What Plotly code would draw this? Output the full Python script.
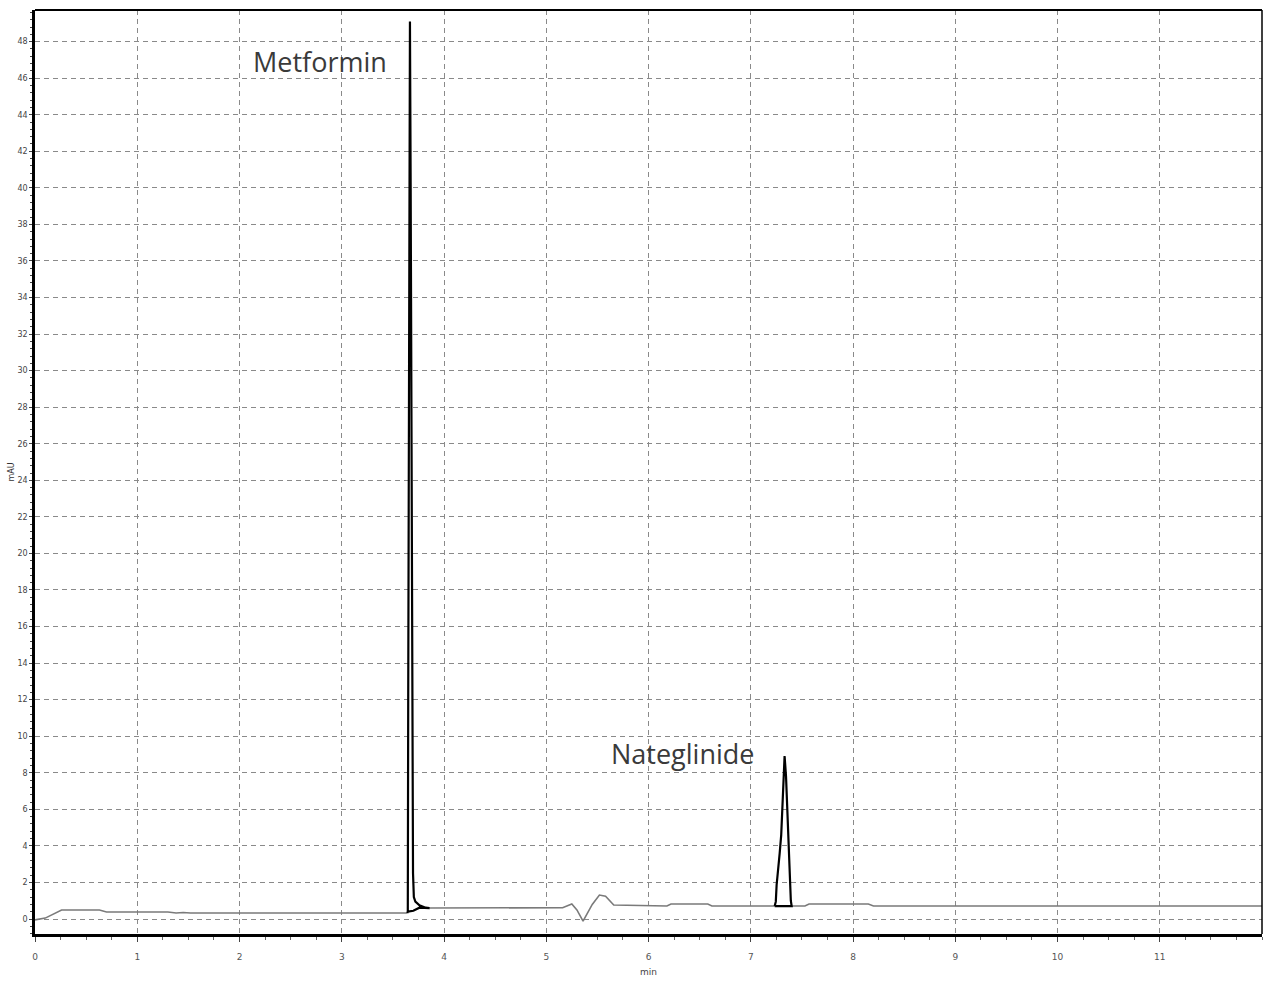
import plotly.graph_objects as go

# Detector trace (baseline segments, grey)
base_t = [0.00, 0.10, 0.26, 0.63, 0.70, 1.30, 1.38, 1.45, 1.52, 3.64,
          3.64]
base_v = [-0.05, 0.05, 0.49, 0.49, 0.38, 0.38, 0.33, 0.36, 0.33, 0.33,
          None]
mid_t = [3.86, 4.50, 5.16, 5.25, 5.30, 5.36, 5.45, 5.52, 5.58, 5.66,
         6.18, 6.22, 6.58, 6.62, 7.23]
mid_v = [0.60, 0.62, 0.62, 0.82, 0.50, -0.11, 0.80, 1.31, 1.25, 0.77,
         0.71, 0.82, 0.82, 0.71, 0.71]
tail_t = [7.41, 7.53, 7.57, 8.15, 8.20, 9.00, 10.0, 11.0, 12.0]
tail_v = [0.71, 0.71, 0.82, 0.82, 0.71, 0.71, 0.71, 0.71, 0.71]

# Metformin peak (black outline)
met_t = [3.640, 3.646, 3.650, 3.656, 3.662, 3.667, 3.674, 3.682, 3.690,
         3.697, 3.705, 3.720, 3.760, 3.820, 3.860, 3.760, 3.700, 3.646]
met_v = [0.33, 0.40, 12.0, 35.0, 47.0, 49.1, 40.0, 24.0, 9.0,
         2.5, 1.2, 0.95, 0.75, 0.62, 0.60, 0.62, 0.45, 0.40]

# Nateglinide peak (black outline)
nat_t = [7.234, 7.245, 7.253, 7.268, 7.283, 7.298, 7.312, 7.324, 7.331,
         7.345, 7.360, 7.370, 7.380, 7.392, 7.400, 7.234]
nat_v = [0.71, 0.95, 1.86, 2.60, 3.61, 4.60, 6.24, 7.60, 8.92,
         7.80, 5.80, 4.32, 2.20, 1.00, 0.71, 0.71]

x_ticks = list(range(0, 12))
x_labels = [str(v) for v in x_ticks]
y_ticks = list(range(0, 50, 2))
y_labels = [str(v) for v in y_ticks]

peak_names = ["Metformin", "Nateglinide"]
peak_label_pos = [(2.79, 46.9), (6.33, 9.05)]

fig = go.Figure()
grey = "#7a7a7a"
fig.add_trace(go.Scatter(x=base_t + mid_t + tail_t, y=base_v + mid_v + tail_v,
                         mode="lines", line=dict(color=grey, width=1.6),
                         connectgaps=False, hoverinfo="skip"))
fig.add_trace(go.Scatter(x=[3.64, 3.646], y=[0.33, 0.40], mode="lines",
                         line=dict(color=grey, width=1.6)))
fig.add_trace(go.Scatter(x=met_t, y=met_v, mode="lines",
                         line=dict(color="black", width=2.2)))
fig.add_trace(go.Scatter(x=nat_t, y=nat_v, mode="lines",
                         line=dict(color="black", width=2.2)))

for name, (px, py) in zip(peak_names, peak_label_pos):
    fig.add_annotation(x=px, y=py, text=name, showarrow=False,
                       xanchor="center", yanchor="middle",
                       font=dict(family="Open Sans", size=27, color="#3a3a3a"))

grid_dash = "5px,4px"
fig.update_xaxes(range=[0, 12], tickmode="array", tickvals=x_ticks,
                 ticktext=x_labels, showgrid=True, gridcolor="#8a8a8a",
                 griddash=grid_dash, gridwidth=1.2, zeroline=False,
                 showline=True, linecolor="black", linewidth=3, mirror=False,
                 ticks="outside", ticklen=5, tickcolor="#444",
                 ticklabelstandoff=7, automargin=False,
                 minor=dict(dtick=0.25, ticks="outside", ticklen=3,
                            tickcolor="#666", showgrid=False),
                 tickfont=dict(family="DejaVu Sans", size=9, color="#555"),
                 title=dict(text="min", standoff=8,
                            font=dict(family="DejaVu Sans", size=9, color="#444")))
fig.update_yaxes(range=[-0.82, 49.73], tickmode="array", tickvals=y_ticks,
                 ticktext=y_labels, showgrid=True, gridcolor="#8a8a8a",
                 griddash=grid_dash, gridwidth=1.2, zeroline=False,
                 showline=True, linecolor="black", linewidth=2.5, mirror=False,
                 ticks="outside", ticklen=3, tickcolor="#444",
                 automargin=False,
                 minor=dict(dtick=0.4, ticks="outside", ticklen=2,
                            tickcolor="#444", showgrid=False),
                 tickfont=dict(family="DejaVu Sans", size=8, color="#444"),
                 title=dict(text="mAU", standoff=2,
                            font=dict(family="DejaVu Sans", size=8, color="#333")))

# frame on the top and right edges of the plot area
fig.add_shape(type="line", xref="paper", yref="paper", x0=0, x1=1, y0=1, y1=1,
              line=dict(color="black", width=2))
fig.add_shape(type="line", xref="paper", yref="paper", x0=1, x1=1, y0=0, y1=1,
              line=dict(color="black", width=1.5))

fig.update_layout(width=1270, height=981, showlegend=False,
                  margin=dict(l=35, r=8, t=10, b=47),
                  plot_bgcolor="white", paper_bgcolor="white")

fig.write_html("out.html")
